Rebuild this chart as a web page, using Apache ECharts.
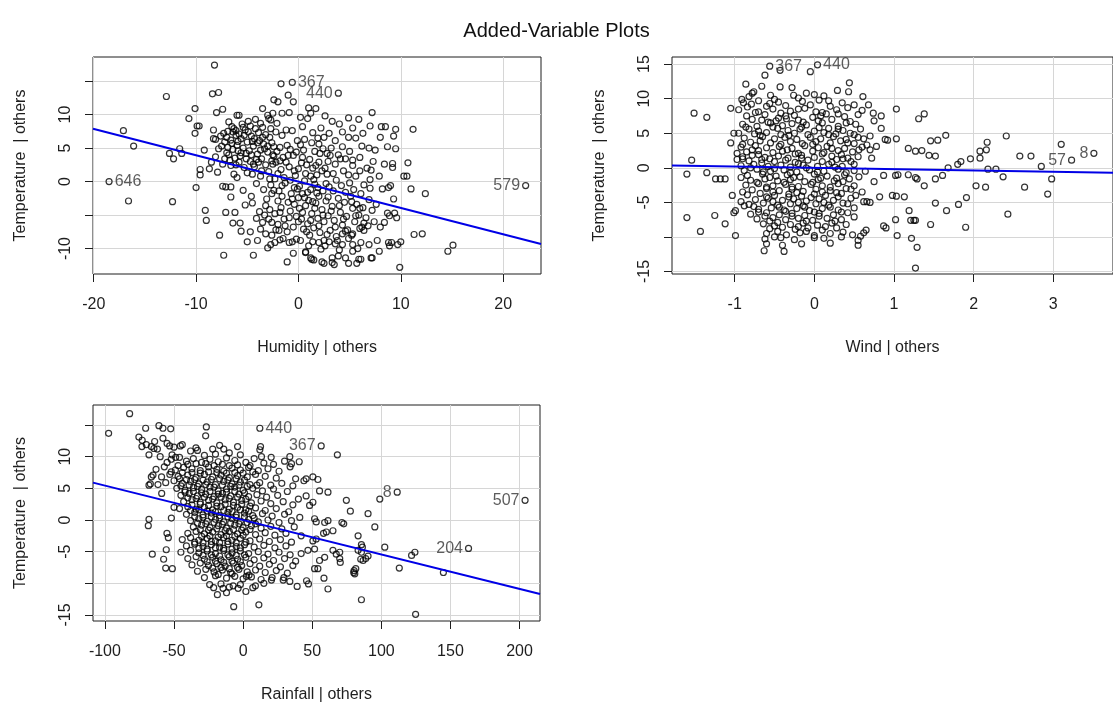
<!DOCTYPE html>
<html>
<head>
<meta charset="utf-8">
<title>Added-Variable Plots</title>
<script src="https://cdn.jsdelivr.net/npm/echarts@6/dist/echarts.min.js"></script>
<style>
  html, body { margin: 0; padding: 0; background: #fff; overflow: hidden; }
  #avp { width: 1113px; height: 706px; }
</style>
</head>
<body>
<div id="avp"></div>
<script>
// Humidity | others  vs  Temperature | others
const humidityPts = [
  [-17.1,7.6],[-16.1,5.3],[-16.6,-2.9],[-12.9,12.7],[-12.3,-3.0],[-12.6,4.2],[-12.2,3.4],[-11.6,4.9],[-11.4,4.2],
  [-8.2,17.4],[-8.4,13.1],[-7.8,13.3],[-10.7,9.4],[-10.1,10.9],[-10.1,7.2],[-9.9,8.3],[-9.7,8.3],[-8.0,10.3],
  [-7.4,10.8],[-8.3,7.7],[-8.1,6.3],[-8.3,6.4],[-9.2,4.7],[-8.7,1.9],[-9.6,1.8],[-9.6,1.0],[-10.0,-0.9],[-8.5,2.9],
  [-7.9,1.4],[-7.4,-0.7],[-7.1,-0.8],[-6.6,-2.3],[-9.1,-4.3],[-9.0,-5.8],[-7.7,-8.0],[-7.3,-11.0],[-4.4,-11.0],
  [-6.2,-4.6],[-6.4,-6.2],[-5.7,-6.2],[-5.6,-7.4],[-4.7,-7.5],[-7.1,-4.6],[-6.0,0.6],[-6.0,9.9],[-5.8,9.9],
  [-6.4,7.4],[-6.1,6.9],[-3.5,10.9],[-3.0,9.9],[-2.7,9.2],[-2.0,11.9],[-1.7,14.6],[-2.5,10.2],[-1.6,10.2],
  [-0.9,10.3],[-4.2,9.3],[-3.5,8.1],[-2.1,8.7],[-1.2,7.7],
  [1.7,10.9],[1.2,10.2],[0.9,9.4],[4.9,9.5],[5.9,9.3],[7.2,10.3],[3.3,9.0],[7.0,8.3],[8.1,8.2],[8.5,8.2],
  [9.5,7.8],[11.2,7.8],[9.3,6.8],[8.0,6.6],[4.3,7.4],[4.9,6.6],[5.6,6.5],[6.2,5.3],[6.9,5.0],[7.5,4.7],[8.7,5.2],
  [9.5,4.9],[4.1,3.4],[4.6,3.4],[5.3,3.2],[8.4,2.6],[9.2,2.7],[9.2,2.1],[10.7,2.8],[10.3,0.8],[10.6,0.8],[6.7,2.0],
  [7.1,1.7],[7.9,0.8],[9.0,-0.6],[8.8,-0.9],[8.2,-1.1],[9.3,-2.6],[11.0,-1.1],[12.4,-1.8],[8.7,-4.7],
  [8.9,-5.1],[9.4,-4.7],[9.6,-5.4],[8.0,-6.8],[8.4,-6.1],[11.3,-7.9],[12.1,-7.8],[14.6,-10.4],[15.1,-9.5],
  [9.9,-12.8],[8.9,-9.6],[9.1,-9.1],[9.7,-9.4],[10.0,-9.0],[7.9,-10.4],[7.1,-11.4],[5.9,-11.6],[5.3,-10.4],
  [4.6,-11.4],[3.9,-11.1],[3.3,-12.1],[3.3,-11.4],[2.3,-12.0],[1.3,-11.6],[0.7,-10.6],[2.0,-9.1],[2.5,-8.8],
  [3.6,-9.3],[4.3,-9.4],[5.3,-9.4],[6.1,-9.1],[6.9,-9.4],[6.4,-7.3],[6.2,-6.8],[5.3,-7.8],[4.3,-7.8],[7.7,-8.8],
  [8.8,-9.1],[-1.1,-12.0],[-0.5,-10.7],[0.7,-10.5],[1.2,-11.4],[1.5,-11.7],[2.5,-12.2],[3.5,-12.4],[4.9,-12.2],
  [5.7,-12.2],[6.1,-11.6],[7.2,-11.4],[-1.9,-7.3],[-2.6,-6.1],[-2.3,-9.1],[-1.8,-8.7],[-0.9,-9.1],[-0.2,-8.6],
  [-2.7,-9.4],[-3.2,-7.8],
  [-7.6,6.8],[-7.2,5.9],[-6.9,7.5],[-6.6,6.2],[-6.3,7.9],[-6.0,5.4],[-5.8,7.1],[-5.6,6.4],[-5.4,5.0],[-5.2,7.7],
  [-5.0,5.9],[-4.8,4.6],[-4.6,6.8],[-4.4,5.3],[-4.2,7.9],[-4.0,4.1],[-3.8,6.1],[-3.6,3.4],[-3.4,5.6],[-3.2,7.0],
  [-3.0,4.4],[-2.8,6.6],[-2.6,3.1],[-2.4,5.2],[-2.2,7.4],[-7.0,4.3],[-6.7,3.2],[-6.4,4.8],[-6.1,2.5],[-5.7,3.8],
  [-5.3,2.1],[-5.1,4.2],[-4.7,3.0],[-4.3,2.2],[-3.9,2.9],[-7.4,2.6],[-7.8,4.9],[-8.1,3.7],[-5.5,8.6],[-4.9,9.0],
  [-3.7,8.7],[-6.8,8.9],[-2.9,9.4],[-5.9,4.6],[-4.5,6.0],[-3.3,4.9],[-6.5,5.7],[-7.3,7.2],[-5.0,1.3],[-6.3,1.1],
  [-2.9,1.5],[-2.7,-0.5],[-2.5,2.6],[-2.3,0.4],[-2.1,4.5],[-1.9,-1.4],[-1.7,1.8],[-1.5,3.6],[-1.3,-0.2],[-1.1,5.4],
  [-0.9,2.2],[-0.7,-1.8],[-0.5,3.9],[-0.3,0.9],[-0.1,6.1],[0.1,-0.7],[0.3,2.8],[0.5,4.7],[0.7,1.2],[0.9,-1.6],
  [1.1,3.3],[1.3,5.8],[1.5,0.3],[1.7,2.4],[1.9,-0.9],[2.1,4.2],[2.3,1.6],[2.5,6.6],[2.7,-0.3],[2.9,3.0],
  [-2.6,5.8],[-1.6,6.9],[-0.6,7.6],[0.4,8.2],[1.4,7.3],[2.2,8.0],[-3.4,-1.2],[-3.7,0.8],[-4.1,-0.3],[-4.5,1.1],
  [-3.1,-2.6],[-2.0,-2.9],[-1.0,-3.1],[0.0,-2.4],[1.0,-2.8],[2.0,-2.2],[-0.4,1.6],[0.6,0.1],[-1.4,0.6],[1.8,1.0],
  [-2.2,2.9],[-0.8,4.8],[0.2,5.5],[1.6,4.5],[-1.8,3.1],[2.6,2.0],[3.2,5.0],[3.6,6.1],[3.4,1.2],[3.9,4.0],
  [0.1,-4.0],[0.3,-5.6],[0.5,-7.1],[0.7,-3.6],[0.9,-6.3],[1.1,-8.0],[1.3,-4.8],[1.5,-6.9],[1.7,-3.2],[1.9,-5.5],
  [2.1,-7.6],[2.3,-4.2],[2.5,-6.0],[2.7,-2.9],[2.9,-5.1],[3.1,-7.3],[3.3,-3.7],[3.5,-5.8],[3.7,-8.2],[3.9,-2.5],
  [4.1,-4.6],[4.3,-6.5],[4.5,-3.1],[4.7,-5.2],[4.9,-8.5],[5.1,-2.2],[5.3,-4.0],[5.5,-6.0],[5.7,-3.4],[5.9,-5.0],
  [6.1,-1.8],[6.3,-3.9],[6.6,-5.4],[6.9,-2.7],[7.2,-4.3],[-0.2,-5.2],[-0.5,-6.8],[-0.8,-4.4],[-1.1,-7.5],[-1.4,-5.6],
  [-1.7,-3.9],[-2.0,-6.4],[-2.3,-4.8],[-2.6,-8.0],[-2.9,-5.6],[-3.2,-3.6],[-3.5,-6.1],[-3.8,-4.5],[-4.1,-5.5],[-4.5,-3.2],
  [0.2,-8.8],[1.0,-9.6],[2.2,-10.1],[3.0,-9.0],[4.0,-10.2],[-0.6,-9.0],[-1.5,-8.5],[4.6,-7.4],[5.2,-8.0],[6.0,-7.0],
  [3.4,-1.4],[4.2,-0.6],[5.0,-0.2],[4.4,1.6],[5.6,0.8],[6.4,-0.5],[7.0,0.3],[2.4,-1.4],[1.2,-1.2],[-0.1,-1.1],
  [3.0,7.2],[4.0,8.6],[5.3,8.0],[6.3,7.2],[2.6,9.8],[1.0,11.0],[0.2,9.6],[-0.5,11.9],[-1.0,12.9],[-2.4,12.2],
  [5.0,4.5],[6.0,3.6],[7.3,3.0],[7.0,-1.0],[7.6,-3.4],[7.4,-6.0],[6.8,-6.6],[5.8,-10.0],[-5.0,-9.0],[-4.0,-8.8],
  [-3.0,-9.9],[-4.6,-2.2],[-5.4,-1.3],[-6.6,-0.8],[-5.2,-3.5],
  [-7.5,5.3],[-7.0,6.6],[-6.8,4.0],[-6.5,8.2],[-6.2,3.5],[-5.9,6.0],[-5.6,4.3],[-5.3,6.9],[-5.1,3.4],[-4.9,7.4],
  [-4.6,4.0],[-4.3,6.4],[-4.1,3.3],[-3.9,7.3],[-3.7,4.7],[-3.5,6.6],[-3.2,2.5],[-3.0,5.3],[-2.7,7.9],[-2.5,4.0],
  [-6.9,5.1],[-6.1,7.6],[-5.4,8.1],[-4.7,8.3],[-4.0,5.8],[-5.8,2.9],[-6.6,2.4],[-7.2,3.4],[-4.4,2.6],[-3.6,1.6],
  [-2.8,0.4],[-2.4,-1.3],[-2.0,1.2],[-1.6,-0.6],[-1.2,2.9],[-0.8,0.2],[-0.4,-0.9],[0.0,1.9],[0.4,3.6],[0.8,2.5],
  [1.2,0.8],[1.6,-0.4],[2.0,2.9],[2.4,4.9],[2.8,1.1],[-2.4,3.8],[-1.8,5.1],[-1.0,3.9],[-0.2,4.4],[0.6,6.3],
  [1.4,2.0],[2.0,5.6],[2.8,4.2],[3.0,-0.8],[-0.6,-2.6],[0.4,-1.8],[1.4,-3.0],[-1.6,-2.2],[-2.6,-1.8],[3.6,2.6],
  [0.0,-6.0],[0.4,-4.6],[0.8,-7.5],[1.2,-5.8],[1.6,-4.0],[2.0,-6.6],[2.4,-5.0],[2.8,-7.9],[3.2,-4.4],[3.6,-6.8],
  [4.0,-3.6],[4.4,-5.6],[4.8,-7.2],[5.2,-3.0],[5.6,-5.1],[6.0,-4.0],[6.4,-6.2],[1.4,-9.0],[2.6,-9.6],[3.8,-8.8],
  [-0.4,-3.4],[-0.9,-5.4],[-1.3,-6.6],[-1.8,-4.6],[-2.2,-7.2],[-2.8,-4.2],[-3.3,-5.0],[-3.7,-7.1],[0.6,-2.4],[1.8,-1.7],
  [2.9,-2.3],[4.6,-1.6],[5.4,-1.2],[3.7,0.2],[4.9,1.0],[6.0,1.6],[5.3,2.4],[3.1,3.9],[4.3,5.2],[1.9,6.5]
];
const humidityIds = [[-18.5,0,'646'],[-0.6,14.8,'367'],[3.9,13.2,'440'],[22.2,-0.6,'579']];

// Wind | others  vs  Temperature | others
const windPts = [
  [-1.51,7.9],[-1.35,7.3],[-1.54,1.1],[-1.6,-0.9],[-1.35,-0.7],[-1.24,-1.6],[-1.18,-1.6],[-1.12,-1.6],[-1.6,-7.2],
  [-1.43,-9.2],[-1.25,-6.9],[-1.12,-8.1],[-0.99,-9.8],[-1.03,-4.0],[-1.05,8.6],[-1.01,-6.5],[-0.99,-6.2],[-0.88,-5.5],
  [-1.05,3.6],[-1.01,5.0],[-0.97,2.1],[-0.97,1.2],[-0.62,13.4],[-0.43,14.1],[-0.05,13.9],
  [0.61,10.3],[0.68,9.1],[0.74,7.9],[0.84,7.5],[0.75,6.8],[1.03,8.5],[1.31,7.1],[1.38,7.8],[0.84,5.7],[0.7,4.6],
  [0.62,4.2],[0.89,4.1],[0.92,4.0],[1.03,4.2],[1.46,3.9],[1.55,4.0],[1.65,4.7],[1.18,2.8],[1.27,2.4],[1.35,2.5],
  [1.44,1.8],[1.52,1.7],[1.68,0.0],[1.84,0.9],[1.8,0.5],[1.96,1.3],[2.08,1.4],[2.08,2.4],[2.16,2.6],[2.17,3.7],
  [2.41,4.6],[2.18,-0.2],[2.28,-0.2],[2.37,-1.3],[2.03,-2.6],[2.15,-2.8],[2.58,1.7],[2.72,1.7],[2.85,0.2],
  [2.98,-1.6],[2.93,-3.8],[2.64,-2.8],[3.1,3.4],[2.43,-6.7],[1.9,-8.6],[1.91,-4.3],[1.81,-5.3],[1.66,-6.2],
  [1.52,-5.1],[1.46,-8.2],[1.21,-7.6],[1.25,-7.6],[1.27,-7.6],[1.19,-6.2],[1.29,-11.5],[1.22,-10.2],[1.27,-14.5],
  [1.04,-9.8],[1.02,-7.5],[0.87,-8.4],[0.9,-8.7],[0.82,-4.2],[0.98,-4.0],[1.03,-4.1],[1.13,-4.2],[0.87,-1.1],
  [1.02,-1.1],[1.05,-1.0],[1.18,-1.0],[1.27,-1.4],[1.29,-1.6],[1.38,-2.6],[1.52,-1.6],[1.61,-1.1],
  [0.62,-4.9],[0.66,-4.9],[0.7,-5.0],[0.6,-3.5],[0.65,-9.0],[0.62,-9.4],[0.58,-9.9],[0.55,-11.2],[0.7,2.6],
  [0.78,3.1],[0.66,3.3],[0.72,1.4],[0.64,-0.5],[0.75,-2.0],
  [-0.86,12.1],[-0.43,11.7],[0.44,12.3],[-0.66,11.8],[-0.28,11.6],[0.29,11.2],[-0.76,11.0],[-0.1,10.8],[0.0,10.6],
  [0.43,11.0],[-0.82,10.3],[-0.55,10.5],[-0.2,10.1],[0.12,10.4],[-0.91,9.9],[-0.89,9.4],[-0.79,9.2],[-0.7,9.7],
  [-0.45,9.5],[-0.36,9.0],[-0.15,9.6],[-0.05,9.1],[0.06,9.8],[0.2,8.9],[0.35,9.4],[0.5,9.1],[-0.6,8.9],
  [-0.95,8.4],[-0.7,8.1],[-0.52,8.5],[-0.3,8.2],[-0.12,8.6],[0.1,8.0],[0.28,8.4],[0.6,8.3],[-0.42,7.9],[0.02,8.1],
  [-0.85,7.5],[-0.62,7.7],[-0.45,7.2],[-0.25,7.6],[-0.02,7.3],[0.15,7.8],[0.38,7.4],[0.55,7.7],[-0.78,7.0],
  [-0.66,6.9],[-0.48,6.8],[-0.35,7.1],[-0.2,6.9],[0.05,6.8],[0.22,7.0],[0.45,6.7],
  [-0.9,6.3],[-0.55,6.5],[-0.4,6.1],[-0.28,6.4],[-0.1,6.2],[0.1,6.5],[0.3,6.0],[0.52,6.3],[-0.72,6.0],[-0.16,5.9],
  [-0.82,5.6],[-0.7,5.3],[-0.46,5.7],[-0.33,5.4],[-0.18,5.6],[0.0,5.3],[0.18,5.7],[0.36,5.4],[0.58,5.6],
  [-0.95,5.0],[-0.75,4.9],[-0.6,5.1],[-0.42,4.8],[-0.25,5.0],[-0.08,4.8],[0.12,5.1],[0.27,4.9],[0.45,5.0],
  [-0.88,4.3],[-0.65,4.5],[-0.5,4.2],[-0.37,4.4],[-0.22,4.1],[-0.05,4.4],[0.08,4.2],[0.24,4.5],[0.4,4.1],[0.55,4.4],
  [-0.8,3.7],[-0.68,3.9],[-0.55,3.6],[-0.3,3.8],[-0.15,3.5],[0.02,3.8],[0.2,3.6],[0.33,3.9],[0.5,3.5],
  [-0.92,3.0],[-0.74,3.2],[-0.6,2.9],[-0.44,3.1],[-0.28,2.8],[-0.12,3.2],[0.05,2.9],[0.16,3.1],[0.38,2.8],[0.6,3.0],
  [-0.85,2.3],[-0.7,2.5],[-0.52,2.2],[-0.4,2.4],[-0.2,2.1],[-0.02,2.4],[0.12,2.2],[0.3,2.5],[0.48,2.3],
  [-0.9,1.6],[-0.78,1.8],[-0.62,1.5],[-0.45,1.7],[-0.33,1.4],[-0.16,1.8],[0.0,1.5],[0.22,1.7],[0.42,1.4],[0.55,1.6],
  [-0.82,1.0],[-0.66,1.2],[-0.5,0.9],[-0.36,1.1],[-0.24,0.8],[-0.08,1.1],[0.1,0.9],[0.28,1.2],[0.46,0.9],
  [-0.92,0.3],[-0.76,0.5],[-0.58,0.2],[-0.42,0.4],[-0.3,0.1],[-0.14,0.4],[0.04,0.2],[0.18,0.5],[0.35,0.2],
  [-0.88,-0.4],[-0.72,-0.2],[-0.55,-0.5],[-0.38,-0.3],[-0.22,-0.6],[-0.06,-0.3],[0.12,-0.5],[0.3,-0.2],[0.5,-0.4],
  [-0.84,-1.1],[-0.65,-0.9],[-0.48,-1.2],[-0.34,-1.0],[-0.18,-1.3],[0.0,-0.9],[0.16,-1.2],[0.38,-1.0],[0.56,-1.3],
  [-0.8,-1.8],[-0.62,-1.6],[-0.46,-1.9],[-0.3,-1.7],[-0.12,-2.0],[0.05,-1.7],[0.25,-1.9],[0.44,-1.6],
  [-0.86,-2.5],[-0.7,-2.3],[-0.52,-2.6],[-0.36,-2.4],[-0.2,-2.7],[-0.04,-2.4],[0.1,-2.6],[0.3,-2.3],[0.5,-2.6],
  [-0.78,-3.2],[-0.6,-3.0],[-0.44,-3.3],[-0.28,-3.1],[-0.14,-3.4],[0.02,-3.1],[0.2,-3.3],[0.4,-3.0],
  [-0.84,-3.9],[-0.68,-3.7],[-0.5,-4.0],[-0.32,-3.8],[-0.16,-4.1],[0.0,-3.8],[0.14,-4.0],[0.34,-3.7],[0.52,-4.0],
  [-0.74,-4.6],[-0.58,-4.4],[-0.4,-4.7],[-0.26,-4.5],[-0.1,-4.8],[0.06,-4.5],[0.24,-4.7],[0.46,-4.4],
  [-0.82,-5.3],[-0.64,-5.1],[-0.46,-5.4],[-0.3,-5.2],[-0.14,-5.5],[0.02,-5.2],[0.18,-5.4],[0.36,-5.1],
  [-0.7,-6.0],[-0.54,-5.8],[-0.38,-6.1],[-0.22,-5.9],[-0.06,-6.2],[0.1,-5.9],[0.3,-6.1],[0.5,-5.8],
  [-0.8,-6.7],[-0.6,-6.5],[-0.44,-6.8],[-0.28,-6.6],[-0.12,-6.9],[0.06,-6.6],[0.24,-6.8],[0.42,-6.5],
  [-0.72,-7.4],[-0.52,-7.2],[-0.36,-7.5],[-0.2,-7.3],[-0.02,-7.6],[0.16,-7.3],[0.34,-7.5],
  [-0.64,-8.1],[-0.46,-7.9],[-0.3,-8.2],[-0.14,-8.0],[0.04,-8.3],[0.22,-8.0],[0.4,-8.2],
  [-0.56,-8.8],[-0.4,-8.6],[-0.24,-8.9],[-0.08,-8.7],[0.1,-9.0],[0.28,-8.7],
  [-0.6,-9.5],[-0.35,-9.7],[-0.18,-9.4],[0.0,-9.8],[0.2,-9.5],[0.48,-9.7],
  [-0.62,-10.3],[-0.42,-10.1],[-0.25,-10.4],[0.12,-10.2],[0.55,-10.5],
  [-0.6,-11.0],[-0.4,-11.2],[0.2,-10.9],[-0.63,-12.0],[-0.38,-12.1],
  [-0.78,10.8],[-0.5,9.9],[-0.26,10.5],[0.18,9.7],[-0.84,8.8],[-0.56,9.3],[-0.2,8.5],[0.42,8.7],[-0.74,8.0],[-0.36,7.5],
  [0.08,7.5],[0.3,7.8],[-0.58,6.6],[-0.14,6.6],[0.4,6.5],[-0.86,5.9],[-0.52,5.9],[0.06,5.8],[0.3,5.6],[-0.68,4.7],
  [-0.32,4.7],[0.18,4.8],[0.5,4.8],[-0.9,3.4],[-0.42,3.4],[-0.02,3.4],[0.42,3.6],[-0.78,2.6],[-0.34,2.6],[0.22,2.8],
  [0.56,2.6],[-0.7,1.9],[-0.24,2.0],[0.1,2.0],[0.34,1.9],[-0.9,1.3],[-0.56,1.3],[-0.16,1.4],[0.36,1.3],[-0.66,0.7],
  [-0.2,0.6],[0.22,0.8],[0.5,0.5],[-0.8,0.0],[-0.5,-0.1],[-0.1,0.0],[0.26,0.1],[-0.64,-0.6],[-0.3,-0.7],[0.04,-0.6],
  [0.4,-0.7],[-0.92,-1.4],[-0.56,-1.4],[-0.26,-1.4],[0.08,-1.5],[0.28,-1.5],[-0.72,-2.1],[-0.38,-2.1],[-0.02,-2.1],[0.36,-2.0],
  [-0.6,-2.8],[-0.28,-2.8],[0.2,-2.8],[0.46,-3.1],[-0.9,-3.5],[-0.52,-3.5],[-0.22,-3.6],[0.1,-3.5],[0.28,-3.6],[-0.6,-4.2],
  [-0.32,-4.2],[-0.04,-4.3],[0.3,-4.2],[-0.92,-4.9],[-0.52,-4.9],[-0.2,-5.0],[0.12,-5.0],[0.42,-5.2],[-0.76,-5.6],[-0.44,-5.7],
  [-0.12,-5.7],[0.2,-5.7],[-0.7,-6.4],[-0.36,-6.3],[0.0,-6.4],[0.34,-6.4],[-0.62,-7.0],[-0.28,-7.0],[0.06,-7.0],[0.5,-7.1],
  [-0.56,-7.7],[-0.1,-7.7],[0.26,-7.7],[-0.5,-8.4],[-0.2,-8.5],[0.14,-8.5],[-0.46,-9.2],[-0.1,-9.2],[0.36,-9.3],[-0.5,-10.0],
  [0.0,-10.1],[0.34,-10.0],[-0.16,-11.0]
];
const windIds = [[-0.56,14.7,'367'],[0.04,14.9,'440'],[3.23,1.1,'57'],[3.51,2.1,'8']];

// Rainfall | others  vs  Temperature | others
const rainfallPts = [
  [-82.1,16.8],[-97.3,13.7],[-70.5,14.5],[-60.9,14.9],[-58,14.5],[-52.4,14.4],[-75.4,13.1],[-73.2,11.6],[-66.4,11.6],
  [-64.5,11.3],[-68.1,10.3],[-58,12.9],[-53.1,11.7],[-51.4,10.3],[-48.8,9.9],[-45.4,11.7],[-26.6,14.7],[-27.1,13.3],
  [-34.1,11.4],[-67.1,5.7],[-68.1,5.5],[-66.4,6.8],[-65.2,7.1],[-58.9,4.2],[-61.6,5.6],[-68.1,0.1],[-68.6,-0.9],
  [-55.1,-2.1],[-54.1,-2.8],[-55.6,-4.7],[-65.7,-5.4],[-57.5,-6.2],[-56,-7.6],[-51.2,-7.7],[-51.9,0.3],[-50,2.0],
  [-18.6,-11.8],[-6.8,-13.7],[11.4,-13.4],[-24.2,-10.2],[-21.3,-10.7],[-14.5,-10.8],[-7.2,-10.4],[-3.6,-10.8],
  [2.4,-8.9],[4.3,-8.7],[8.9,-10.4],[15,-10],[20.5,-9.5],[29.5,-9.1],[33.8,-9.7],[39.1,-10.5],[45.9,-9.6],[47.3,-10.1],
  [12.6,11.6],[12.1,11.1],[13.3,10],[20.3,9.9],[33.8,10],[35,8.9],[40.6,9.2],
  [68.2,10.3],[98.9,3.3],[95.3,-1.1],[90.4,1.0],[77.6,1.4],[74.7,3.1],[71.5,-0.4],[72.8,-0.6],[83.2,-2.5],[85.6,-3.9],
  [86.3,-4.3],[102.5,-4.3],[113,-7.6],[121.9,-5.6],[124.3,-5.1],[144.9,-8.3],[124.8,-14.9],[85.6,-12.6],[61.4,-10.9],
  [80.3,-8.0],[80,-8.3],[80.8,-8.5],[81.5,-7.7],[85.1,-6.2],[86.8,-6.4],[88.7,-6.1],[90.4,-5.7],[83.2,-4.8],[85.6,-5.1],
  [69.9,-5.1],[69.9,-6.1],[70.3,-6.7],[65,-4.8],[67.4,-5.4],[59,-5.9],[55.3,-6.4],[51.7,-7.7],[54.1,-7.7],[58.5,-9.2],
  [45.6,6.5],[50.5,6.8],[54.1,6.4],[55.3,4.6],[61.4,4.4],[45.6,3.8],[48.1,2.3],[50.5,2.8],[51.7,0.2],[52.9,-0.3],
  [59,-0.4],[61.4,-0.1],[58.2,-2.1],[60.2,-1.9],[65,-1.7],[50.5,-3.3],[52.9,-3.0],[51.7,-4.6],[46.9,-4.8],
  [-73,12.6],[-70,11.9],[-64,12.4],[-62,11.2],[-55,12.1],[-50,11.5],[-44,11.9],[-38,10.9],[-22,11.2],[-17,11.8],[-10,10.6],[-2,10.3],
  [-60,10.0],[-52,9.6],[-46,9.9],[-41,9.3],[-36,9.7],[-30,9.1],[-24,9.6],[-18,9.2],[-12,9.8],[-6,9.4],[2,9.1],[8,9.7],[15,9.0],[22,8.8],[30,9.3],
  [-63,8.0],[-57,8.4],[-49,7.9],[-43,8.3],[-37,8.1],[-31,7.8],[-25,8.4],[-19,8.0],[-14,7.7],[-8,8.2],[-2,7.9],[4,8.3],[11,7.8],[18,8.1],[26,7.7],[34,8.4],
  [-59,6.8],[-53,7.2],[-47,6.9],[-40,7.1],[-34,6.7],[-28,7.2],[-22,6.8],[-16,7.1],[-10,6.7],[-4,7.0],[3,6.8],[9,7.2],[16,6.9],[24,6.6],[38,6.5],[44,6.2],
  [-56,5.9],[-50,6.2],[-44,5.8],[-38,6.1],[-32,5.7],[-26,6.0],[-20,5.6],[-14,6.1],[-8,5.7],[-2,6.0],[5,5.6],[12,5.9],[20,5.5],[28,5.8],[36,5.4],
  [-48,5.0],[-42,4.7],[-36,5.1],[-30,4.8],[-24,5.2],[-18,4.6],[-12,4.9],[-6,5.2],[0,4.7],[7,5.0],[14,4.6],[22,4.9],[32,4.5],
  [-45,3.9],[-39,4.2],[-33,3.8],[-27,4.1],[-21,3.7],[-15,4.2],[-9,3.8],[-3,4.1],[4,3.7],[10,4.0],[17,3.6],[25,3.9],[40,3.3],
  [-43,2.9],[-37,3.2],[-31,2.8],[-25,3.1],[-19,2.7],[-13,3.2],[-7,2.8],[-1,3.1],[6,2.7],[13,3.0],[20,2.6],[29,2.9],[36,2.4],
  [-46,1.8],[-40,2.1],[-34,1.7],[-28,2.0],[-22,1.6],[-16,2.1],[-10,1.7],[-4,2.0],[2,1.6],[9,1.9],[16,1.5],[24,1.8],[33,1.3],
  [-41,0.9],[-35,1.2],[-29,0.8],[-23,1.1],[-17,0.7],[-11,1.2],[-5,0.8],[1,1.1],[7,0.7],[14,1.0],[21,0.6],[30,0.9],[41,0.4],
  [-38,-0.1],[-32,0.2],[-26,-0.2],[-20,0.1],[-14,-0.3],[-8,0.2],[-2,-0.2],[4,0.1],[11,-0.3],[18,0.0],[26,-0.4],[35,-0.1],
  [-36,-1.1],[-30,-0.8],[-24,-1.2],[-18,-0.9],[-12,-1.3],[-6,-0.8],[0,-1.2],[6,-0.9],[13,-1.3],[20,-1.0],[28,-1.4],[37,-1.1],
  [-40,-2.1],[-34,-1.8],[-28,-2.2],[-22,-1.9],[-16,-2.3],[-10,-1.8],[-4,-2.2],[2,-1.9],[9,-2.3],[16,-2.0],[23,-2.4],[31,-2.1],[42,-2.5],
  [-44,-3.1],[-38,-2.8],[-32,-3.2],[-26,-2.9],[-20,-3.3],[-14,-2.8],[-8,-3.2],[-2,-2.9],[5,-3.3],[12,-3.0],[19,-3.4],[27,-3.1],[35,-3.5],
  [-41,-4.1],[-35,-3.8],[-29,-4.2],[-23,-3.9],[-17,-4.3],[-11,-3.8],[-5,-4.2],[1,-3.9],[8,-4.3],[15,-4.0],[23,-4.4],[31,-4.1],
  [-45,-5.1],[-38,-4.8],[-32,-5.2],[-26,-4.9],[-20,-5.3],[-14,-4.8],[-8,-5.2],[-2,-4.9],[4,-5.3],[11,-5.0],[18,-5.4],[26,-5.1],[34,-5.5],[42,-5.3],
  [-40,-6.1],[-34,-5.8],[-28,-6.2],[-22,-5.9],[-16,-6.3],[-10,-5.8],[-4,-6.2],[2,-5.9],[8,-6.3],[15,-6.0],[22,-6.4],[30,-6.1],[38,-6.5],
  [-37,-7.1],[-31,-6.8],[-25,-7.2],[-19,-6.9],[-13,-7.3],[-7,-6.8],[-1,-7.2],[5,-6.9],[12,-7.3],[19,-7.0],[27,-7.4],[36,-7.2],
  [-33,-8.1],[-27,-7.8],[-21,-8.2],[-15,-7.9],[-9,-8.3],[-3,-7.8],[3,-8.2],[9,-7.9],[16,-8.3],[24,-8.0],[32,-8.4],
  [-28,-9.1],[-20,-8.8],[-12,-9.2],[-6,-8.9],[0,-9.3],[6,-9.0],[13,-9.4],[21,-9.1],[29,-9.5],
  [-16,-10.1],[-10,-10.6],[-2,-10.2],[7,-10.7],[2,-11.3],[-12,-11.5],
  [-33,11.0],[-28,10.2],[-20,10.4],[-14,11.2],[-4,11.6],[-55,9.1],[-47,8.6],[-40,8.8],[-34,8.9],[-27,8.9],
  [-21,8.6],[-15,8.8],[-10,8.6],[-4,8.7],[5,8.6],[-52,7.6],[-44,7.5],[-37,7.5],[-31,7.4],[-25,7.6],
  [-19,7.5],[-12,7.4],[-6,7.5],[0,7.4],[7,7.6],[-46,6.5],[-41,6.4],[-35,6.4],[-29,6.3],[-23,6.4],
  [-17,6.5],[-11,6.3],[-5,6.5],[1,6.3],[-45,5.4],[-39,5.5],[-33,5.3],[-27,5.6],[-21,5.2],[-15,5.5],
  [-9,5.3],[-3,5.5],[3,5.3],[10,5.5],[-42,4.4],[-36,4.5],[-30,4.3],[-24,4.5],[-18,4.1],[-12,4.4],
  [-6,4.5],[1,4.3],[-40,3.5],[-34,3.4],[-28,3.6],[-22,3.3],[-16,3.6],[-10,3.4],[-4,3.6],[2,3.3],
  [-37,2.4],[-31,2.5],[-25,2.3],[-19,2.2],[-13,2.5],[-7,2.3],[-1,2.5],[5,2.2],[-38,1.5],[-32,1.6],
  [-26,1.4],[-20,1.3],[-14,1.5],[-8,1.3],[-2,1.6],[4,1.4],[-35,0.5],[-29,0.4],[-23,0.5],[-17,0.3],
  [-11,0.5],[-5,0.4],[1,0.5],[8,0.3],[-33,-0.5],[-27,-0.6],[-21,-0.4],[-15,-0.7],[-9,-0.5],[-3,-0.6],
  [3,-0.4],[9,-0.6],[-31,-1.5],[-25,-1.6],[-19,-1.4],[-13,-1.7],[-7,-1.5],[-1,-1.6],[5,-1.5],[-30,-2.6],
  [-24,-2.5],[-18,-2.7],[-12,-2.5],[-6,-2.6],[0,-2.4],[-35,-3.5],[-29,-3.6],[-23,-3.4],[-17,-3.6],[-11,-3.4],
  [-5,-3.6],[2,-3.5],[-32,-4.5],[-26,-4.6],[-20,-4.4],[-14,-4.5],[-8,-4.6],[-2,-4.4],[-29,-5.6],[-23,-5.5],
  [-17,-5.7],[-11,-5.5],[-5,-5.6],[1,-5.5],[-26,-6.6],[-20,-6.5],[-14,-6.7],[-8,-6.5],[-2,-6.6],[-22,-7.6],
  [-16,-7.5],[-10,-7.7],[-4,-7.5],[-18,-8.6],[-8,-8.5]
];
const rainfallIds = [[12.1,14.5,'440'],[56.5,11.7,'367'],[111.5,4.4,'8'],[163.1,-4.5,'204'],[204,3.1,'507']];

// fitted slopes (lines pass through the origin)
const slopes = [-0.393, -0.19, -0.0544];

// ticks and the labels R kept
const humidityTicks = [-20, -10, 0, 10, 20];
const windTicks = [-1, 0, 1, 2, 3];
const rainfallTicks = [-100, -50, 0, 50, 100, 150, 200];
const tempTicks = [[-10, -5, 0, 5, 10, 15], [-15, -10, -5, 0, 5, 10, 15], [-15, -10, -5, 0, 5, 10, 15]];
const tempLabels = [[-10, 0, 5, 10], [-15, -5, 0, 5, 10, 15], [-15, -5, 0, 5, 10]];

const xNames = ['Humidity | others', 'Wind | others', 'Rainfall | others'];
const yName = 'Temperature  | others';

const font = '"Liberation Sans", Arial, sans-serif';
const ink = '#1e1e1e';

const grids = [
  { left: 93, top: 57, width: 448, height: 217 },
  { left: 672, top: 57, width: 450, height: 217 },
  { left: 93, top: 405, width: 447, height: 216 }
];
const xRanges = [[-20.07, 23.7], [-1.787, 3.75], [-108.6, 214.8]];
const yRanges = [[-13.8, 18.6], [-15.36, 16.03], [-15.96, 18.17]];
const xTicks = [humidityTicks, windTicks, rainfallTicks];
const pts = [humidityPts, windPts, rainfallPts];
const ids = [humidityIds, windIds, rainfallIds];

const myChart = echarts.init(document.getElementById('avp'));

let option = {
  backgroundColor: '#fff',
  animation: false,
  title: {
    text: 'Added-Variable Plots',
    left: 'center',
    top: 16,
    textStyle: { fontFamily: font, fontSize: 20, fontWeight: 'normal', color: '#111' }
  },
  grid: [],
  xAxis: [],
  yAxis: [],
  series: []
};

for (let i = 0; i < 3; i++) {
  option.grid.push(Object.assign({
    show: true, backgroundColor: '#fff', borderColor: ink, borderWidth: 1
  }, grids[i]));

  option.xAxis.push({
    type: 'value', gridIndex: i,
    min: xRanges[i][0], max: xRanges[i][1],
    name: xNames[i], nameLocation: 'middle', nameGap: 66,
    nameTextStyle: { fontFamily: font, fontSize: 16, color: ink },
    axisLine: { show: false, onZero: false },
    axisTick: { show: true, length: 8, lineStyle: { color: ink }, customValues: xTicks[i] },
    axisLabel: { margin: 23, fontFamily: font, fontSize: 16, color: ink, customValues: xTicks[i] },
    splitLine: { show: true, lineStyle: { color: '#d6d6d6', width: 1 } }
  });

  option.yAxis.push({
    type: 'value', gridIndex: i,
    min: yRanges[i][0], max: yRanges[i][1],
    name: yName, nameLocation: 'middle', nameGap: 64,
    nameTextStyle: { fontFamily: font, fontSize: 16, color: ink },
    axisLine: { show: false, onZero: false },
    axisTick: { show: true, length: 8, lineStyle: { color: ink }, customValues: tempTicks[i] },
    axisLabel: { rotate: 90, margin: 19, fontFamily: font, fontSize: 16, color: ink, customValues: tempLabels[i] },
    splitLine: { show: true, lineStyle: { color: '#d6d6d6', width: 1 } }
  });

  option.series.push({
    type: 'scatter', xAxisIndex: i, yAxisIndex: i,
    data: pts[i],
    symbol: 'circle', symbolSize: 6,
    itemStyle: { color: 'rgba(0,0,0,0)', borderColor: '#000', borderWidth: 1.2 },
    silent: true
  });

  // labelled observations: text goes on the side facing the middle of the panel
  const mid = (xRanges[i][0] + xRanges[i][1]) / 2;
  option.series.push({
    type: 'scatter', xAxisIndex: i, yAxisIndex: i,
    data: ids[i].map(d => ({ value: d, label: { position: d[0] < mid ? 'right' : 'left' } })),
    symbol: 'circle', symbolSize: 6,
    itemStyle: { color: 'rgba(0,0,0,0)', borderColor: '#000', borderWidth: 1.2 },
    label: {
      show: true,
      formatter: p => p.value[2],
      distance: 2,
      fontFamily: font, fontSize: 16, color: '#333'
    },
    silent: true
  });

  option.series.push({
    type: 'line', xAxisIndex: i, yAxisIndex: i,
    data: [
      [xRanges[i][0], slopes[i] * xRanges[i][0]],
      [xRanges[i][1], slopes[i] * xRanges[i][1]]
    ],
    symbol: 'none',
    lineStyle: { color: '#0000e6', width: 2 },
    z: 3,
    silent: true
  });
}

myChart.setOption(option);
</script>
</body>
</html>
